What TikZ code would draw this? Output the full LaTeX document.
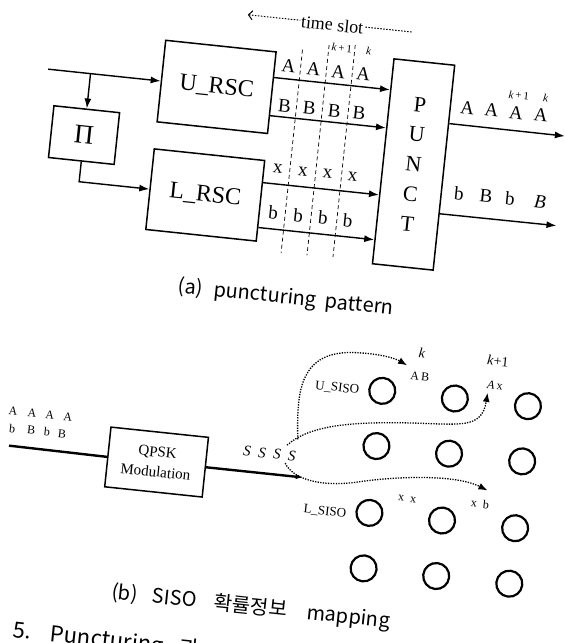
\documentclass[tikz,border=0pt]{standalone}
\usepackage{fontspec}
\setmainfont{Liberation Serif}
\newfontfamily\krfont{Noto Sans CJK KR}
\usetikzlibrary{arrows.meta,calc}
\begin{document}
\begin{tikzpicture}[x=1pt,y=-1pt,
  box/.style={draw,line width=1.5pt,inner sep=0pt},
  arr/.style={line width=1.4pt,-{Latex[length=10pt,width=7pt]}},
  lab/.style={inner sep=0pt,font=\fontsize{19}{19}\selectfont},
  kidx/.style={inner sep=0pt,font=\fontsize{11}{11}\selectfont},
  slot/.style={line width=0.7pt,dash pattern=on 4pt off 3pt},
  dcurve/.style={line width=1.3pt,dash pattern=on 1.3pt off 1.3pt,-{Latex[length=9pt,width=7pt]}},
  capt/.style={inner sep=0pt,font=\krfont\fontsize{20}{20}\selectfont},
  ring/.style={circle,draw,line width=2.2pt,minimum size=26pt,inner sep=0pt},
  tinylab/.style={inner sep=0pt,font=\fontsize{12}{12}\selectfont},
]
\useasboundingbox (0,0) rectangle (565,643);
\clip (0,0) rectangle (565,643);
\begin{scope}[rotate around={-6:(282,321)}, transform shape]
% ---------------- (a) ----------------
\node[box,minimum width=111pt,minimum height=82pt,font=\fontsize{24}{24}\selectfont] (U) at (192.5,95) {U\_RSC};
\node[box,minimum width=111pt,minimum height=81pt,font=\fontsize{24}{24}\selectfont] (L) at (192.5,203.7) {L\_RSC};
\node[box,minimum width=66pt,minimum height=52pt,font=\fontsize{27}{27}\selectfont] (Pi) at (65.7,156.8) {Π};
\node[box,minimum width=61pt,minimum height=206pt,align=center,font=\fontsize{22}{30}\selectfont] (PU) at (396.5,151.6) {P\\U\\N\\C\\T};

\coordinate (in) at (23,95);
\draw[arr] (in) -- (U);
\coordinate (br) at ($(in)!(Pi.north)!(U.west)$);
\draw[arr] (br) -- (Pi.north);
\coordinate (lc) at ($(L.west)!(Pi.south)!(L.east)$);
\draw[arr] (Pi.south) -- (lc) -- (L.west);

\coordinate (ua) at ($(U.north east)!0.317!(U.south east)$);
\coordinate (ub) at ($(U.north east)!0.776!(U.south east)$);
\coordinate (lx) at ($(L.north east)!0.278!(L.south east)$);
\coordinate (lb) at ($(L.north east)!0.825!(L.south east)$);
\draw[arr] (ua) -- ($(PU.north west)!(ua)!(PU.south west)$);
\draw[arr] (ub) -- ($(PU.north west)!(ub)!(PU.south west)$);
\draw[arr] (lx) -- ($(PU.north west)!(lx)!(PU.south west)$);
\draw[arr] (lb) -- ($(PU.north west)!(lb)!(PU.south west)$);

\foreach \x in {262,287,312,337} {
  \node[lab] (cA\x) at (\x,67) {A};
  \node[lab] (cB\x) at (\x,106.5) {B};
  \node[lab] (cx\x) at (\x,170) {x};
  \node[lab] (cb\x) at (\x,214) {b};
}
\node[kidx] (k1a) at (313,43) {\textit{k}\,+\,1};
\node[kidx] (ka) at (340,43) {\textit{k}};

\draw[slot] (274,49) -- (274,253.5);
\draw[slot] (300,41.5) -- (300,253);
\draw[slot] (326,39) -- (326,252);

\coordinate (tsl) at (216,20);
\coordinate (tsr) at (382,20);
\draw[line width=1pt,dash pattern=on 1.5pt off 1.5pt,{Straight Barb[length=4pt,width=9pt]}-] (tsl) -- (tsr);
\node[fill=white,inner sep=1pt,font=\fontsize{18}{18}\selectfont] (ts) at (301,21) {time slot};

\coordinate (pa) at ($(PU.north east)!0.286!(PU.south east)$);
\coordinate (pb) at ($(PU.north east)!0.723!(PU.south east)$);
\coordinate (oa) at (544,107.5);
\coordinate (ob) at (545,197.5);
\draw[arr] (pa) -- (oa);
\draw[arr] (pb) -- (ob);
\node[lab] (oA1) at (444,89.5) {A};
\node[lab] (oA2) at (468.5,89.5) {A};
\node[lab] (oA3) at (493,89.5) {A};
\node[lab] (oA4) at (518,89.5) {A};
\node[kidx] (k1b) at (494,72) {\textit{k}\,+\,1};
\node[kidx] (kb) at (521,72) {\textit{k}};
\node[lab] (ob1) at (444.6,175.5) {b};
\node[lab] (ob2) at (471.9,175.5) {B};
\node[lab] (ob3) at (495.9,175.5) {b};
\node[lab] (ob4) at (526.2,175.5) {\textit{B}};

\node[capt] (capa) at (283.6,297.7) {(a)\hspace{11pt}puncturing\hspace{9pt}pattern};

% ---------------- (b) ----------------
\node[box,minimum width=98pt,minimum height=60pt,align=center,font=\fontsize{15}{20}\selectfont] (Q) at (172,474.4) {QPSK\\Modulation};
\coordinate (bin) at (23.5,473.5);
\coordinate (bout) at (319,474.4);
\draw[line width=2.4pt] (bin) -- (Q.west);
\draw[line width=2.4pt,-{Latex[length=7pt,width=5pt]}] (Q.east) -- (bout);

\node[tinylab] (iA1) at (24,439) {A};
\node[tinylab] (iA2) at (43,439) {A};
\node[tinylab] (iA3) at (61,439) {A};
\node[tinylab] (iA4) at (79,439) {A};
\node[tinylab] (ib1) at (25,456) {b};
\node[tinylab] (ib2) at (44,456) {B};
\node[tinylab] (ib3) at (60,456) {b};
\node[tinylab] (ib4) at (75,456) {B};

\foreach \x in {261,276,291,306}
  \node[inner sep=0pt,font=\fontsize{15}{15}\selectfont\itshape] (s\x) at (\x,454) {S};

\foreach \c/\x in {1/389,2/462,3/535.5}
  \foreach \r/\y in {1/380,2/435.5,3/502.7,4/558.5}
    \node[ring] (c\r\c) at (\x,\y) {};

\node[inner sep=0pt,font=\fontsize{14}{14}\selectfont\itshape] (kk) at (424.5,338) {k};
\node[inner sep=0pt,font=\fontsize{14}{14}\selectfont] (kk1) at (501,338) {\textit{k}+1};
\node[tinylab] (AB) at (425,362) {A\,B};
\node[tinylab] (Ax) at (500.6,363) {\textit{A}\,x};
\node[inner sep=0pt,font=\fontsize{13}{13}\selectfont,anchor=east] (us) at (366,382) {U\_SISO};
\node[inner sep=0pt,font=\fontsize{13}{13}\selectfont,anchor=east] (ls) at (366,506) {L\_SISO};
\node[tinylab] (xx) at (425,485) {x\ \ x};
\node[tinylab] (xb) at (498,482) {x\ \ b};

\coordinate (d1s) at (310,437);
\coordinate (d1e) at (411,352);
\coordinate (d2s) at (300,444);
\coordinate (d2e) at (494,371);
\coordinate (d3s) at (300,462);
\coordinate (d3e) at (504,468);
\draw[dcurve] (d1s) .. controls (305,395) and (300,350) .. (355,345) .. controls (380,343) and (398,346) .. (d1e);
\draw[dcurve] (d2s) .. controls (320,422) and (360,414) .. (420,409) .. controls (470,405) and (492,408) .. (d2e);
\draw[dcurve] (d3s) .. controls (310,478) and (340,482) .. (375,473) .. controls (410,464) and (470,455) .. (d3e);

\node[capt] (capb) at (281,609) {(b)\hspace{15pt}SISO\hspace{17pt}확률정보\hspace{20pt}mapping};
\node[inner sep=0pt,anchor=base west,font=\krfont\fontsize{22}{22}\selectfont] (nxt) at (47,664) {5.\hspace{19pt}Puncturing\hspace{16pt}과};
\end{scope}
\end{tikzpicture}
\end{document}
